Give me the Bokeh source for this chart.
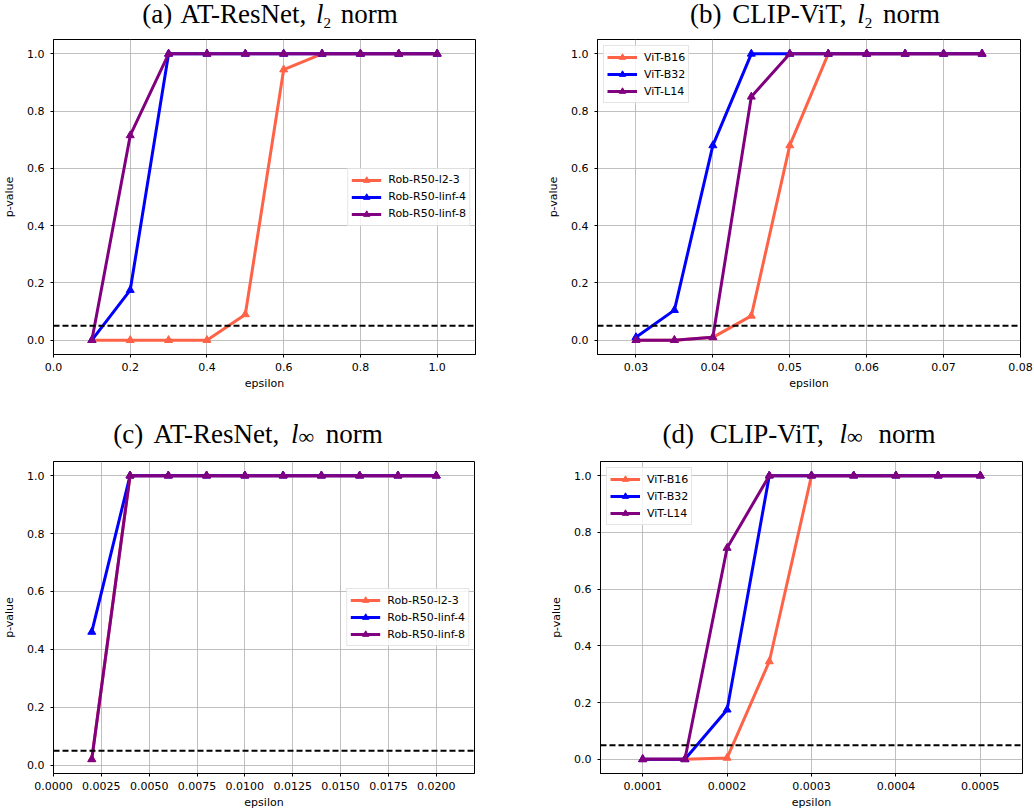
from bokeh.plotting import figure
from bokeh.models import Span, Div, FixedTicker, NumeralTickFormatter, Range1d
from bokeh.layouts import column, row
from bokeh.embed import file_html
from bokeh.resources import INLINE

# ---------------- data ----------------
titles = ["(a) AT-ResNet", "(b) CLIP-ViT", "(c) AT-ResNet", "(d) CLIP-ViT"]
norm_subs = ["2", "2", "\u221e", "\u221e"]

names_resnet = ["Rob-R50-l2-3", "Rob-R50-linf-4", "Rob-R50-linf-8"]
names_vit = ["ViT-B16", "ViT-B32", "ViT-L14"]

eps_a = [0.1, 0.2, 0.3, 0.4, 0.5, 0.6, 0.7, 0.8, 0.9, 1.0]
a_l2_3 = [0.0, 0.0, 0.0, 0.0, 0.09, 0.945, 1.0, 1.0, 1.0, 1.0]
a_linf_4 = [0.0, 0.175, 1.0, 1.0, 1.0, 1.0, 1.0, 1.0, 1.0, 1.0]
a_linf_8 = [0.0, 0.715, 1.0, 1.0, 1.0, 1.0, 1.0, 1.0, 1.0, 1.0]

eps_b = [0.03, 0.035, 0.04, 0.045, 0.05, 0.055, 0.06, 0.065, 0.07, 0.075]
b_b16 = [0.0, 0.0, 0.01, 0.085, 0.68, 1.0, 1.0, 1.0, 1.0, 1.0]
b_b32 = [0.01, 0.105, 0.68, 1.0, 1.0, 1.0, 1.0, 1.0, 1.0, 1.0]
b_l14 = [0.0, 0.0, 0.01, 0.85, 1.0, 1.0, 1.0, 1.0, 1.0, 1.0]

eps_c = [0.002, 0.004, 0.006, 0.008, 0.010, 0.012, 0.014, 0.016, 0.018, 0.020]
c_l2_3 = [0.02, 1.0, 1.0, 1.0, 1.0, 1.0, 1.0, 1.0, 1.0, 1.0]
c_linf_4 = [0.46, 1.0, 1.0, 1.0, 1.0, 1.0, 1.0, 1.0, 1.0, 1.0]
c_linf_8 = [0.02, 1.0, 1.0, 1.0, 1.0, 1.0, 1.0, 1.0, 1.0, 1.0]

eps_d = [0.0001, 0.00015, 0.0002, 0.00025, 0.0003, 0.00035, 0.0004, 0.00045, 0.0005]
d_b16 = [0.0, 0.0, 0.005, 0.345, 1.0, 1.0, 1.0, 1.0, 1.0]
d_b32 = [0.0, 0.0, 0.175, 1.0, 1.0, 1.0, 1.0, 1.0, 1.0]
d_l14 = [0.0, 0.0, 0.745, 1.0, 1.0, 1.0, 1.0, 1.0, 1.0]

threshold = 0.05

y_ticks = [0.0, 0.2, 0.4, 0.6, 0.8, 1.0]
x_ticks_a = [0.0, 0.2, 0.4, 0.6, 0.8, 1.0]
x_ticks_b = [0.03, 0.04, 0.05, 0.06, 0.07, 0.08]
x_ticks_c = [0.0, 0.0025, 0.005, 0.0075, 0.01, 0.0125, 0.015, 0.0175, 0.02]
x_ticks_d = [0.0001, 0.0002, 0.0003, 0.0004, 0.0005]

colors = ["#ff6347", "#0000ff", "#800080"]
FONT = "DejaVu Sans"


def title_div(width, height, center, top, label, sub, sub_size, sub_shift, wspace):
    html = (
        f'<div style="position:relative;width:{width}px;height:{height}px;">'
        f'<span style="position:absolute;left:{center}px;top:{top}px;transform:translateX(-50%);'
        f"font-family:'Liberation Serif';font-size:27px;line-height:27px;white-space:nowrap;"
        f'word-spacing:{wspace}px;color:#000;">'
        f'{label}, <i>l</i><span style="font-size:{sub_size}px;position:relative;top:{sub_shift}px;">{sub}</span> norm'
        f'</span></div>'
    )
    return Div(text=html, width=width, height=height, margin=0)


def panel(width, height, bl, br, bt, bb, xr, yr, xticks, xfmt, eps, series, names,
          legend_loc, legend_margin):
    p = figure(width=width, height=height, output_backend="svg", toolbar_location=None,
               x_range=Range1d(*xr), y_range=Range1d(*yr),
               min_border_left=bl, min_border_right=br, min_border_top=bt, min_border_bottom=bb)
    p.background_fill_color = "white"
    p.border_fill_color = "white"
    p.outline_line_color = "black"
    p.outline_line_width = 1

    xt = FixedTicker(ticks=xticks)
    yt = FixedTicker(ticks=y_ticks)
    p.xaxis.ticker = xt
    p.yaxis.ticker = yt
    p.xgrid.ticker = xt
    p.ygrid.ticker = yt
    p.xaxis.formatter = NumeralTickFormatter(format=xfmt)
    p.yaxis.formatter = NumeralTickFormatter(format="0.0")
    for g in (p.xgrid, p.ygrid):
        g.grid_line_color = "#b0b0b0"
        g.grid_line_width = 0.8

    for ax in (p.xaxis[0], p.yaxis[0]):
        ax.major_label_text_font = FONT
        ax.major_label_text_font_size = "11px"
        ax.major_label_text_color = "black"
        ax.axis_label_text_font = FONT
        ax.axis_label_text_font_size = "11px"
        ax.axis_label_text_font_style = "normal"
        ax.axis_label_text_color = "black"
        ax.major_tick_out = 3
        ax.major_tick_in = 0
        ax.minor_tick_out = 0
        ax.minor_tick_in = 0
        ax.axis_line_color = "black"
        ax.major_tick_line_color = "black"
    p.xaxis.axis_label = "epsilon"
    p.yaxis.axis_label = "p-value"
    p.xaxis.major_label_standoff = 5
    p.xaxis.axis_label_standoff = 3
    p.yaxis.major_label_standoff = 6
    p.yaxis.axis_label_standoff = 8

    for vals, name, col in zip(series, names, colors):
        p.line(eps, vals, line_color=col, line_width=3, legend_label=name)
        p.scatter(eps, vals, marker="triangle", size=8, fill_color=col, line_color=col,
                  legend_label=name)

    p.add_layout(Span(location=threshold, dimension="width", line_color="black",
                      line_dash="6 3", line_width=2))

    lg = p.legend[0]
    lg.location = legend_loc
    lg.margin = legend_margin
    lg.padding = 3
    lg.spacing = 1
    lg.glyph_width = 30
    lg.glyph_height = 16
    lg.label_height = 16
    lg.label_standoff = 7
    lg.label_text_font = FONT
    lg.label_text_font_size = "11px"
    lg.label_text_color = "black"
    lg.border_line_color = "#cccccc"
    lg.border_line_width = 1
    lg.background_fill_alpha = 0.8
    return p


pa = panel(515, 368, 53, 40, 7, 46, (0.0, 1.1), (-0.05, 1.05), x_ticks_a, "0.0",
           eps_a, [a_l2_3, a_linf_4, a_linf_8], names_resnet, "center_right", 5)
pb = panel(518, 368, 82, 13, 7, 46, (0.025, 0.08), (-0.05, 1.05), x_ticks_b, "0.00",
           eps_b, [b_b16, b_b32, b_l14], names_vit, "top_left", 6)
pc = panel(515, 358, 52, 41, 8, 36, (0.0, 0.022), (-0.029, 1.049), x_ticks_c, "0.0000",
           eps_c, [c_l2_3, c_linf_4, c_linf_8], names_resnet, "center_right", 5)
pd = panel(518, 358, 85, 11, 8, 36, (0.00005, 0.00055), (-0.05, 1.05), x_ticks_d, "0.0000",
           eps_d, [d_b16, d_b32, d_l14], names_vit, "top_left", 6)

da = title_div(515, 32, 270, 1, titles[0], norm_subs[0], 15, 5, 3)
db = title_div(518, 32, 300, 1, titles[1], norm_subs[1], 15, 5, 4)
dc = title_div(515, 53, 248, 21, titles[2], norm_subs[2], 22, 1, 5)
dd = title_div(518, 53, 284, 21, titles[3], norm_subs[3], 22, 1, 9)

layout = column(
    row(column(da, pa, spacing=0), column(db, pb, spacing=0), spacing=0),
    row(column(dc, pc, spacing=0), column(dd, pd, spacing=0), spacing=0),
    spacing=0,
)

open("out.html", "w").write(file_html(layout, INLINE))
